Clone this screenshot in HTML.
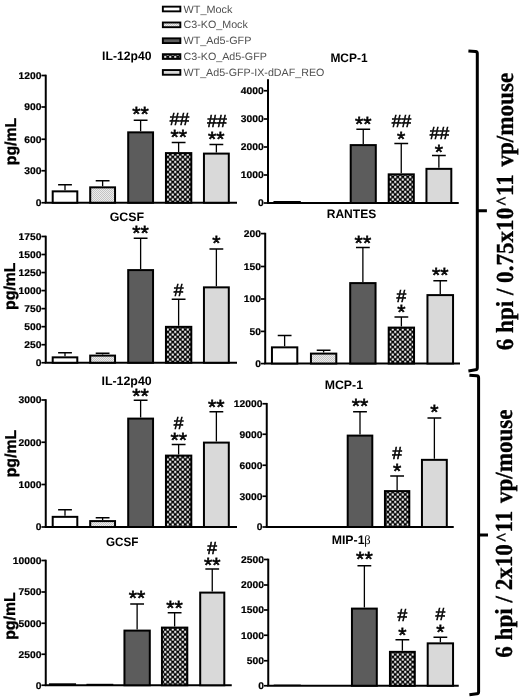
<!DOCTYPE html>
<html><head><meta charset="utf-8"><title>figure</title>
<style>
html,body{margin:0;padding:0;background:#fff;}
svg{display:block;font-family:"Liberation Sans",sans-serif;filter:grayscale(1);text-rendering:geometricPrecision;}
.tk{font-weight:bold;font-size:9.8px;fill:#000;text-rendering:geometricPrecision;stroke:#000;stroke-width:0.2px;}
.tt{font-weight:bold;font-size:12.3px;fill:#000;}
.an{fill:#000;stroke:#000;stroke-width:0.6px;}
.pg{font-weight:bold;font-size:15.7px;fill:#000;stroke:#000;stroke-width:0.35px;}
.lg{font-size:10.6px;fill:#505050;}
.sd{font-family:"Liberation Serif",serif;font-weight:bold;font-size:24.5px;fill:#000;stroke:#000;stroke-width:0.3px;}
</style></head><body>
<svg width="520" height="697" viewBox="0 0 520 697">
<defs>
<pattern id="chk" width="5" height="5" patternUnits="userSpaceOnUse" x="4" y="0.7">
<rect width="5" height="5" fill="#000"/><rect x="0.2" y="0.2" width="2.1" height="2.1" fill="#fff"/><rect x="2.7" y="2.7" width="2.1" height="2.1" fill="#fff"/>
</pattern>
<pattern id="dots" width="2" height="2" patternUnits="userSpaceOnUse">
<rect width="2" height="2" fill="#ececec"/><rect width="1" height="1" fill="#c4c4c4"/><rect x="1" y="1" width="1" height="1" fill="#c4c4c4"/>
</pattern>
</defs>
<rect width="520" height="697" fill="#fff"/>

<path d="M45.75 74.70V202.75" stroke="#000" stroke-width="2.0" fill="none"/>
<path d="M44.75 202.75H237.00" stroke="#000" stroke-width="2.0" fill="none"/>
<path d="M41.45 202.75H45.75" stroke="#000" stroke-width="1.7" fill="none"/>
<text x="41.45" y="206.15" text-anchor="end" class="tk" textLength="5.7" lengthAdjust="spacingAndGlyphs">0</text>
<path d="M41.45 170.75H45.75" stroke="#000" stroke-width="1.7" fill="none"/>
<text x="41.45" y="174.15" text-anchor="end" class="tk" textLength="17.2" lengthAdjust="spacingAndGlyphs">300</text>
<path d="M41.45 139.25H45.75" stroke="#000" stroke-width="1.7" fill="none"/>
<text x="41.45" y="142.65" text-anchor="end" class="tk" textLength="17.2" lengthAdjust="spacingAndGlyphs">600</text>
<path d="M41.45 107.00H45.75" stroke="#000" stroke-width="1.7" fill="none"/>
<text x="41.45" y="110.40" text-anchor="end" class="tk" textLength="17.2" lengthAdjust="spacingAndGlyphs">900</text>
<path d="M41.45 75.50H45.75" stroke="#000" stroke-width="1.7" fill="none"/>
<text x="41.45" y="78.90" text-anchor="end" class="tk" textLength="22.9" lengthAdjust="spacingAndGlyphs">1200</text>
<rect x="52.70" y="191.35" width="24.60" height="11.40" fill="#ffffff" stroke="#000" stroke-width="2.0"/>
<path d="M65.00 190.35V184.75M58.10 184.75H71.90" stroke="#000" stroke-width="1.3" fill="none"/>
<rect x="90.20" y="187.35" width="24.85" height="15.40" fill="url(#dots)" stroke="#000" stroke-width="2.0"/>
<path d="M102.62 186.35V180.75M95.72 180.75H109.53" stroke="#000" stroke-width="1.3" fill="none"/>
<rect x="128.20" y="132.35" width="24.85" height="70.40" fill="#5c5c5c" stroke="#000" stroke-width="2.0"/>
<path d="M140.62 131.35V120.25M133.72 120.25H147.53" stroke="#000" stroke-width="1.3" fill="none"/>
<rect x="165.95" y="153.10" width="25.35" height="49.65" fill="url(#chk)" stroke="#000" stroke-width="2.0"/>
<path d="M178.62 152.10V142.50M171.72 142.50H185.53" stroke="#000" stroke-width="1.3" fill="none"/>
<rect x="203.95" y="153.60" width="24.85" height="49.15" fill="#d9d9d9" stroke="#000" stroke-width="2.0"/>
<path d="M216.38 152.60V144.50M209.47 144.50H223.28" stroke="#000" stroke-width="1.3" fill="none"/>
<text x="102.10" y="60.20" class="tt" textLength="49.3" lengthAdjust="spacingAndGlyphs">IL-12p40</text>
<text x="140.50" y="120.70" text-anchor="middle" class="an" font-size="20.5" textLength="16.6" lengthAdjust="spacingAndGlyphs">**</text>
<text x="178.70" y="144.20" text-anchor="middle" class="an" font-size="20.5" textLength="16.6" lengthAdjust="spacingAndGlyphs">**</text>
<text x="179.50" y="125.00" text-anchor="middle" class="an" font-size="17.5" textLength="19.4" lengthAdjust="spacingAndGlyphs">##</text>
<text x="216.30" y="145.70" text-anchor="middle" class="an" font-size="20.5" textLength="16.6" lengthAdjust="spacingAndGlyphs">**</text>
<text x="217.00" y="126.75" text-anchor="middle" class="an" font-size="17.5" textLength="19.4" lengthAdjust="spacingAndGlyphs">##</text>
<text transform="translate(15.50 141.50) rotate(-90)" text-anchor="middle" class="pg" textLength="47.4" lengthAdjust="spacingAndGlyphs">pg/mL</text>
<path d="M268.00 78.70V203.00" stroke="#000" stroke-width="2.0" fill="none"/>
<path d="M267.00 203.00H458.75" stroke="#000" stroke-width="2.0" fill="none"/>
<path d="M263.70 203.00H268.00" stroke="#000" stroke-width="1.7" fill="none"/>
<text x="263.70" y="206.40" text-anchor="end" class="tk" textLength="5.7" lengthAdjust="spacingAndGlyphs">0</text>
<path d="M263.70 175.00H268.00" stroke="#000" stroke-width="1.7" fill="none"/>
<text x="263.70" y="178.40" text-anchor="end" class="tk" textLength="22.9" lengthAdjust="spacingAndGlyphs">1000</text>
<path d="M263.70 147.00H268.00" stroke="#000" stroke-width="1.7" fill="none"/>
<text x="263.70" y="150.40" text-anchor="end" class="tk" textLength="22.9" lengthAdjust="spacingAndGlyphs">2000</text>
<path d="M263.70 119.00H268.00" stroke="#000" stroke-width="1.7" fill="none"/>
<text x="263.70" y="122.40" text-anchor="end" class="tk" textLength="22.9" lengthAdjust="spacingAndGlyphs">3000</text>
<path d="M263.70 90.75H268.00" stroke="#000" stroke-width="1.7" fill="none"/>
<text x="263.70" y="94.15" text-anchor="end" class="tk" textLength="22.9" lengthAdjust="spacingAndGlyphs">4000</text>
<rect x="273.45" y="201.00" width="27.35" height="2.00" fill="#000"/>
<rect x="310.70" y="202.00" width="27.60" height="1.00" fill="#000"/>
<rect x="350.70" y="145.10" width="25.10" height="57.90" fill="#5c5c5c" stroke="#000" stroke-width="2.0"/>
<path d="M363.25 144.10V129.25M356.35 129.25H370.15" stroke="#000" stroke-width="1.3" fill="none"/>
<rect x="388.70" y="174.35" width="25.10" height="28.65" fill="url(#chk)" stroke="#000" stroke-width="2.0"/>
<path d="M401.25 173.35V143.50M394.35 143.50H408.15" stroke="#000" stroke-width="1.3" fill="none"/>
<rect x="426.45" y="168.85" width="24.85" height="34.15" fill="#d9d9d9" stroke="#000" stroke-width="2.0"/>
<path d="M438.88 167.85V155.50M431.98 155.50H445.77" stroke="#000" stroke-width="1.3" fill="none"/>
<text x="330.45" y="61.70" class="tt" textLength="37.1" lengthAdjust="spacingAndGlyphs">MCP-1</text>
<text x="363.20" y="130.70" text-anchor="middle" class="an" font-size="20.5" textLength="16.6" lengthAdjust="spacingAndGlyphs">**</text>
<text x="401.20" y="145.70" text-anchor="middle" class="an" font-size="20.5" textLength="8.3" lengthAdjust="spacingAndGlyphs">*</text>
<text x="401.50" y="126.50" text-anchor="middle" class="an" font-size="17.5" textLength="19.4" lengthAdjust="spacingAndGlyphs">##</text>
<text x="438.90" y="158.70" text-anchor="middle" class="an" font-size="20.5" textLength="8.3" lengthAdjust="spacingAndGlyphs">*</text>
<text x="439.50" y="139.00" text-anchor="middle" class="an" font-size="17.5" textLength="19.4" lengthAdjust="spacingAndGlyphs">##</text>
<path d="M45.75 235.70V362.75" stroke="#000" stroke-width="2.0" fill="none"/>
<path d="M44.75 362.75H237.00" stroke="#000" stroke-width="2.0" fill="none"/>
<path d="M41.45 362.75H45.75" stroke="#000" stroke-width="1.7" fill="none"/>
<text x="41.45" y="366.15" text-anchor="end" class="tk" textLength="5.7" lengthAdjust="spacingAndGlyphs">0</text>
<path d="M41.45 344.71H45.75" stroke="#000" stroke-width="1.7" fill="none"/>
<text x="41.45" y="348.11" text-anchor="end" class="tk" textLength="17.2" lengthAdjust="spacingAndGlyphs">250</text>
<path d="M41.45 326.67H45.75" stroke="#000" stroke-width="1.7" fill="none"/>
<text x="41.45" y="330.07" text-anchor="end" class="tk" textLength="17.2" lengthAdjust="spacingAndGlyphs">500</text>
<path d="M41.45 308.63H45.75" stroke="#000" stroke-width="1.7" fill="none"/>
<text x="41.45" y="312.03" text-anchor="end" class="tk" textLength="17.2" lengthAdjust="spacingAndGlyphs">750</text>
<path d="M41.45 290.59H45.75" stroke="#000" stroke-width="1.7" fill="none"/>
<text x="41.45" y="293.99" text-anchor="end" class="tk" textLength="22.9" lengthAdjust="spacingAndGlyphs">1000</text>
<path d="M41.45 272.55H45.75" stroke="#000" stroke-width="1.7" fill="none"/>
<text x="41.45" y="275.95" text-anchor="end" class="tk" textLength="22.9" lengthAdjust="spacingAndGlyphs">1250</text>
<path d="M41.45 254.51H45.75" stroke="#000" stroke-width="1.7" fill="none"/>
<text x="41.45" y="257.91" text-anchor="end" class="tk" textLength="22.9" lengthAdjust="spacingAndGlyphs">1500</text>
<path d="M41.45 236.47H45.75" stroke="#000" stroke-width="1.7" fill="none"/>
<text x="41.45" y="239.87" text-anchor="end" class="tk" textLength="22.9" lengthAdjust="spacingAndGlyphs">1750</text>
<rect x="52.70" y="357.35" width="24.60" height="5.40" fill="#ffffff" stroke="#000" stroke-width="2.0"/>
<path d="M65.00 356.35V352.75M58.10 352.75H71.90" stroke="#000" stroke-width="1.3" fill="none"/>
<rect x="90.20" y="355.60" width="24.85" height="7.15" fill="url(#dots)" stroke="#000" stroke-width="2.0"/>
<path d="M102.62 354.60V353.25M95.72 353.25H109.53" stroke="#000" stroke-width="1.3" fill="none"/>
<rect x="128.20" y="270.10" width="24.85" height="92.65" fill="#5c5c5c" stroke="#000" stroke-width="2.0"/>
<path d="M140.62 269.10V238.25M133.72 238.25H147.53" stroke="#000" stroke-width="1.3" fill="none"/>
<rect x="165.95" y="326.85" width="25.35" height="35.90" fill="url(#chk)" stroke="#000" stroke-width="2.0"/>
<path d="M178.62 325.85V299.25M171.72 299.25H185.53" stroke="#000" stroke-width="1.3" fill="none"/>
<rect x="203.95" y="287.35" width="24.85" height="75.40" fill="#d9d9d9" stroke="#000" stroke-width="2.0"/>
<path d="M216.38 286.35V249.00M209.47 249.00H223.28" stroke="#000" stroke-width="1.3" fill="none"/>
<text x="109.70" y="221.20" class="tt" textLength="34.5" lengthAdjust="spacingAndGlyphs">GCSF</text>
<text x="140.50" y="240.20" text-anchor="middle" class="an" font-size="20.5" textLength="16.6" lengthAdjust="spacingAndGlyphs">**</text>
<text x="178.70" y="295.50" text-anchor="middle" class="an" font-size="17.5" textLength="9.7" lengthAdjust="spacingAndGlyphs">#</text>
<text x="216.30" y="250.20" text-anchor="middle" class="an" font-size="20.5" textLength="8.3" lengthAdjust="spacingAndGlyphs">*</text>
<text transform="translate(15.20 286.20) rotate(-90)" text-anchor="middle" class="pg" textLength="47.4" lengthAdjust="spacingAndGlyphs">pg/mL</text>
<path d="M265.20 232.80V363.50" stroke="#000" stroke-width="2.0" fill="none"/>
<path d="M264.20 363.50H460.00" stroke="#000" stroke-width="2.0" fill="none"/>
<path d="M260.90 363.60H265.20" stroke="#000" stroke-width="1.7" fill="none"/>
<text x="260.90" y="367.00" text-anchor="end" class="tk" textLength="5.7" lengthAdjust="spacingAndGlyphs">0</text>
<path d="M260.90 331.40H265.20" stroke="#000" stroke-width="1.7" fill="none"/>
<text x="260.90" y="334.80" text-anchor="end" class="tk" textLength="11.4" lengthAdjust="spacingAndGlyphs">50</text>
<path d="M260.90 299.00H265.20" stroke="#000" stroke-width="1.7" fill="none"/>
<text x="260.90" y="302.40" text-anchor="end" class="tk" textLength="17.2" lengthAdjust="spacingAndGlyphs">100</text>
<path d="M260.90 266.50H265.20" stroke="#000" stroke-width="1.7" fill="none"/>
<text x="260.90" y="269.90" text-anchor="end" class="tk" textLength="17.2" lengthAdjust="spacingAndGlyphs">150</text>
<path d="M260.90 233.60H265.20" stroke="#000" stroke-width="1.7" fill="none"/>
<text x="260.90" y="237.00" text-anchor="end" class="tk" textLength="17.2" lengthAdjust="spacingAndGlyphs">200</text>
<rect x="271.95" y="347.35" width="25.35" height="16.15" fill="#ffffff" stroke="#000" stroke-width="2.0"/>
<path d="M284.62 346.35V335.50M277.73 335.50H291.52" stroke="#000" stroke-width="1.3" fill="none"/>
<rect x="310.95" y="353.60" width="25.35" height="9.90" fill="url(#dots)" stroke="#000" stroke-width="2.0"/>
<path d="M323.62 352.60V350.25M316.73 350.25H330.52" stroke="#000" stroke-width="1.3" fill="none"/>
<rect x="350.20" y="283.10" width="25.35" height="80.40" fill="#5c5c5c" stroke="#000" stroke-width="2.0"/>
<path d="M362.88 282.10V247.50M355.98 247.50H369.77" stroke="#000" stroke-width="1.3" fill="none"/>
<rect x="388.70" y="327.60" width="25.35" height="35.90" fill="url(#chk)" stroke="#000" stroke-width="2.0"/>
<path d="M401.38 326.60V317.00M394.48 317.00H408.27" stroke="#000" stroke-width="1.3" fill="none"/>
<rect x="427.45" y="295.10" width="25.60" height="68.40" fill="#d9d9d9" stroke="#000" stroke-width="2.0"/>
<path d="M440.25 294.10V280.75M433.35 280.75H447.15" stroke="#000" stroke-width="1.3" fill="none"/>
<text x="326.70" y="218.00" class="tt" textLength="49.6" lengthAdjust="spacingAndGlyphs">RANTES</text>
<text x="362.90" y="249.70" text-anchor="middle" class="an" font-size="20.5" textLength="16.6" lengthAdjust="spacingAndGlyphs">**</text>
<text x="401.40" y="319.20" text-anchor="middle" class="an" font-size="20.5" textLength="8.3" lengthAdjust="spacingAndGlyphs">*</text>
<text x="401.40" y="302.25" text-anchor="middle" class="an" font-size="17.5" textLength="9.7" lengthAdjust="spacingAndGlyphs">#</text>
<text x="440.20" y="282.20" text-anchor="middle" class="an" font-size="20.5" textLength="16.6" lengthAdjust="spacingAndGlyphs">**</text>
<path d="M45.75 399.20V527.00" stroke="#000" stroke-width="2.0" fill="none"/>
<path d="M44.75 527.00H237.00" stroke="#000" stroke-width="2.0" fill="none"/>
<path d="M41.45 527.00H45.75" stroke="#000" stroke-width="1.7" fill="none"/>
<text x="41.45" y="530.40" text-anchor="end" class="tk" textLength="5.7" lengthAdjust="spacingAndGlyphs">0</text>
<path d="M41.45 484.50H45.75" stroke="#000" stroke-width="1.7" fill="none"/>
<text x="41.45" y="487.90" text-anchor="end" class="tk" textLength="22.9" lengthAdjust="spacingAndGlyphs">1000</text>
<path d="M41.45 442.25H45.75" stroke="#000" stroke-width="1.7" fill="none"/>
<text x="41.45" y="445.65" text-anchor="end" class="tk" textLength="22.9" lengthAdjust="spacingAndGlyphs">2000</text>
<path d="M41.45 400.00H45.75" stroke="#000" stroke-width="1.7" fill="none"/>
<text x="41.45" y="403.40" text-anchor="end" class="tk" textLength="22.9" lengthAdjust="spacingAndGlyphs">3000</text>
<rect x="52.70" y="516.85" width="24.60" height="10.15" fill="#ffffff" stroke="#000" stroke-width="2.0"/>
<path d="M65.00 515.85V509.75M58.10 509.75H71.90" stroke="#000" stroke-width="1.3" fill="none"/>
<rect x="90.20" y="521.10" width="24.85" height="5.90" fill="url(#dots)" stroke="#000" stroke-width="2.0"/>
<path d="M102.62 520.10V517.75M95.72 517.75H109.53" stroke="#000" stroke-width="1.3" fill="none"/>
<rect x="128.20" y="418.60" width="24.85" height="108.40" fill="#5c5c5c" stroke="#000" stroke-width="2.0"/>
<path d="M140.62 417.60V400.25M133.72 400.25H147.53" stroke="#000" stroke-width="1.3" fill="none"/>
<rect x="165.95" y="455.60" width="25.35" height="71.40" fill="url(#chk)" stroke="#000" stroke-width="2.0"/>
<path d="M178.62 454.60V444.50M171.72 444.50H185.53" stroke="#000" stroke-width="1.3" fill="none"/>
<rect x="203.95" y="442.60" width="24.85" height="84.40" fill="#d9d9d9" stroke="#000" stroke-width="2.0"/>
<path d="M216.38 441.60V411.75M209.47 411.75H223.28" stroke="#000" stroke-width="1.3" fill="none"/>
<text x="101.45" y="385.20" class="tt" textLength="50.3" lengthAdjust="spacingAndGlyphs">IL-12p40</text>
<text x="140.50" y="402.70" text-anchor="middle" class="an" font-size="20.5" textLength="16.6" lengthAdjust="spacingAndGlyphs">**</text>
<text x="178.70" y="446.70" text-anchor="middle" class="an" font-size="20.5" textLength="16.6" lengthAdjust="spacingAndGlyphs">**</text>
<text x="178.70" y="428.50" text-anchor="middle" class="an" font-size="17.5" textLength="9.7" lengthAdjust="spacingAndGlyphs">#</text>
<text x="216.30" y="413.70" text-anchor="middle" class="an" font-size="20.5" textLength="16.6" lengthAdjust="spacingAndGlyphs">**</text>
<text transform="translate(15.50 453.60) rotate(-90)" text-anchor="middle" class="pg" textLength="47.4" lengthAdjust="spacingAndGlyphs">pg/mL</text>
<path d="M266.75 402.95V527.00" stroke="#000" stroke-width="2.0" fill="none"/>
<path d="M265.75 527.00H453.75" stroke="#000" stroke-width="2.0" fill="none"/>
<path d="M262.45 527.00H266.75" stroke="#000" stroke-width="1.7" fill="none"/>
<text x="262.45" y="530.40" text-anchor="end" class="tk" textLength="5.7" lengthAdjust="spacingAndGlyphs">0</text>
<path d="M262.45 496.25H266.75" stroke="#000" stroke-width="1.7" fill="none"/>
<text x="262.45" y="499.65" text-anchor="end" class="tk" textLength="22.9" lengthAdjust="spacingAndGlyphs">3000</text>
<path d="M262.45 465.25H266.75" stroke="#000" stroke-width="1.7" fill="none"/>
<text x="262.45" y="468.65" text-anchor="end" class="tk" textLength="22.9" lengthAdjust="spacingAndGlyphs">6000</text>
<path d="M262.45 434.25H266.75" stroke="#000" stroke-width="1.7" fill="none"/>
<text x="262.45" y="437.65" text-anchor="end" class="tk" textLength="22.9" lengthAdjust="spacingAndGlyphs">9000</text>
<path d="M262.45 403.75H266.75" stroke="#000" stroke-width="1.7" fill="none"/>
<text x="262.45" y="407.15" text-anchor="end" class="tk" textLength="28.6" lengthAdjust="spacingAndGlyphs">12000</text>
<rect x="272.70" y="526.00" width="26.60" height="1.00" fill="#000"/>
<rect x="309.70" y="526.20" width="26.60" height="0.80" fill="#000"/>
<rect x="347.70" y="435.60" width="24.60" height="91.40" fill="#5c5c5c" stroke="#000" stroke-width="2.0"/>
<path d="M360.00 434.60V411.75M353.10 411.75H366.90" stroke="#000" stroke-width="1.3" fill="none"/>
<rect x="384.95" y="491.10" width="24.35" height="35.90" fill="url(#chk)" stroke="#000" stroke-width="2.0"/>
<path d="M397.12 490.10V476.00M390.23 476.00H404.02" stroke="#000" stroke-width="1.3" fill="none"/>
<rect x="421.95" y="459.85" width="24.85" height="67.15" fill="#d9d9d9" stroke="#000" stroke-width="2.0"/>
<path d="M434.38 458.85V418.00M427.48 418.00H441.27" stroke="#000" stroke-width="1.3" fill="none"/>
<text x="324.70" y="388.70" class="tt" textLength="38.3" lengthAdjust="spacingAndGlyphs">MCP-1</text>
<text x="360.00" y="413.45" text-anchor="middle" class="an" font-size="20.5" textLength="16.6" lengthAdjust="spacingAndGlyphs">**</text>
<text x="397.10" y="478.45" text-anchor="middle" class="an" font-size="20.5" textLength="8.3" lengthAdjust="spacingAndGlyphs">*</text>
<text x="397.10" y="458.50" text-anchor="middle" class="an" font-size="17.5" textLength="9.7" lengthAdjust="spacingAndGlyphs">#</text>
<text x="434.40" y="419.20" text-anchor="middle" class="an" font-size="20.5" textLength="8.3" lengthAdjust="spacingAndGlyphs">*</text>
<path d="M45.75 559.70V685.25" stroke="#000" stroke-width="2.0" fill="none"/>
<path d="M44.75 685.25H231.75" stroke="#000" stroke-width="2.0" fill="none"/>
<path d="M41.45 685.25H45.75" stroke="#000" stroke-width="1.7" fill="none"/>
<text x="41.45" y="688.65" text-anchor="end" class="tk" textLength="5.7" lengthAdjust="spacingAndGlyphs">0</text>
<path d="M41.45 654.25H45.75" stroke="#000" stroke-width="1.7" fill="none"/>
<text x="41.45" y="657.65" text-anchor="end" class="tk" textLength="22.9" lengthAdjust="spacingAndGlyphs">2500</text>
<path d="M41.45 623.25H45.75" stroke="#000" stroke-width="1.7" fill="none"/>
<text x="41.45" y="626.65" text-anchor="end" class="tk" textLength="22.9" lengthAdjust="spacingAndGlyphs">5000</text>
<path d="M41.45 592.00H45.75" stroke="#000" stroke-width="1.7" fill="none"/>
<text x="41.45" y="595.40" text-anchor="end" class="tk" textLength="22.9" lengthAdjust="spacingAndGlyphs">7500</text>
<path d="M41.45 560.50H45.75" stroke="#000" stroke-width="1.7" fill="none"/>
<text x="41.45" y="563.90" text-anchor="end" class="tk" textLength="28.6" lengthAdjust="spacingAndGlyphs">10000</text>
<rect x="48.95" y="683.30" width="27.10" height="1.95" fill="#000"/>
<rect x="86.45" y="683.80" width="26.85" height="1.45" fill="#000"/>
<rect x="124.45" y="630.60" width="25.35" height="54.65" fill="#5c5c5c" stroke="#000" stroke-width="2.0"/>
<path d="M137.12 629.60V604.00M130.22 604.00H144.03" stroke="#000" stroke-width="1.3" fill="none"/>
<rect x="161.95" y="627.60" width="25.35" height="57.65" fill="url(#chk)" stroke="#000" stroke-width="2.0"/>
<path d="M174.62 626.60V612.75M167.72 612.75H181.53" stroke="#000" stroke-width="1.3" fill="none"/>
<rect x="200.20" y="592.60" width="24.10" height="92.65" fill="#d9d9d9" stroke="#000" stroke-width="2.0"/>
<path d="M212.25 591.60V569.00M205.35 569.00H219.15" stroke="#000" stroke-width="1.3" fill="none"/>
<text x="105.95" y="546.20" class="tt" textLength="32.5" lengthAdjust="spacingAndGlyphs">GCSF</text>
<text x="137.10" y="605.20" text-anchor="middle" class="an" font-size="20.5" textLength="16.6" lengthAdjust="spacingAndGlyphs">**</text>
<text x="174.60" y="615.45" text-anchor="middle" class="an" font-size="20.5" textLength="16.6" lengthAdjust="spacingAndGlyphs">**</text>
<text x="212.20" y="571.70" text-anchor="middle" class="an" font-size="20.5" textLength="16.6" lengthAdjust="spacingAndGlyphs">**</text>
<text x="212.20" y="554.00" text-anchor="middle" class="an" font-size="17.5" textLength="9.7" lengthAdjust="spacingAndGlyphs">#</text>
<text transform="translate(14.60 616.10) rotate(-90)" text-anchor="middle" class="pg" textLength="47.4" lengthAdjust="spacingAndGlyphs">pg/mL</text>
<path d="M268.25 558.70V685.75" stroke="#000" stroke-width="2.0" fill="none"/>
<path d="M267.25 685.75H458.75" stroke="#000" stroke-width="2.0" fill="none"/>
<path d="M263.95 685.75H268.25" stroke="#000" stroke-width="1.7" fill="none"/>
<text x="263.95" y="689.15" text-anchor="end" class="tk" textLength="5.7" lengthAdjust="spacingAndGlyphs">0</text>
<path d="M263.95 660.75H268.25" stroke="#000" stroke-width="1.7" fill="none"/>
<text x="263.95" y="664.15" text-anchor="end" class="tk" textLength="17.2" lengthAdjust="spacingAndGlyphs">500</text>
<path d="M263.95 635.25H268.25" stroke="#000" stroke-width="1.7" fill="none"/>
<text x="263.95" y="638.65" text-anchor="end" class="tk" textLength="22.9" lengthAdjust="spacingAndGlyphs">1000</text>
<path d="M263.95 610.00H268.25" stroke="#000" stroke-width="1.7" fill="none"/>
<text x="263.95" y="613.40" text-anchor="end" class="tk" textLength="22.9" lengthAdjust="spacingAndGlyphs">1500</text>
<path d="M263.95 585.00H268.25" stroke="#000" stroke-width="1.7" fill="none"/>
<text x="263.95" y="588.40" text-anchor="end" class="tk" textLength="22.9" lengthAdjust="spacingAndGlyphs">2000</text>
<path d="M263.95 559.50H268.25" stroke="#000" stroke-width="1.7" fill="none"/>
<text x="263.95" y="562.90" text-anchor="end" class="tk" textLength="22.9" lengthAdjust="spacingAndGlyphs">2500</text>
<rect x="273.70" y="684.60" width="27.10" height="1.15" fill="#000"/>
<rect x="311.70" y="685.00" width="27.10" height="0.75" fill="#000"/>
<rect x="351.95" y="608.60" width="24.85" height="77.15" fill="#5c5c5c" stroke="#000" stroke-width="2.0"/>
<path d="M364.38 607.60V565.75M357.48 565.75H371.27" stroke="#000" stroke-width="1.3" fill="none"/>
<rect x="389.95" y="651.85" width="24.85" height="33.90" fill="url(#chk)" stroke="#000" stroke-width="2.0"/>
<path d="M402.38 650.85V639.75M395.48 639.75H409.27" stroke="#000" stroke-width="1.3" fill="none"/>
<rect x="427.70" y="643.35" width="25.35" height="42.40" fill="#d9d9d9" stroke="#000" stroke-width="2.0"/>
<path d="M440.38 642.35V637.25M433.48 637.25H447.27" stroke="#000" stroke-width="1.3" fill="none"/>
<text x="331.70" y="543.70" class="tt" textLength="32.8" lengthAdjust="spacingAndGlyphs">MIP-1</text><text x="364.3" y="543.7" font-family="Liberation Serif" font-size="12.5" fill="#000">β</text>
<text x="364.40" y="565.95" text-anchor="middle" class="an" font-size="20.5" textLength="16.6" lengthAdjust="spacingAndGlyphs">**</text>
<text x="402.40" y="641.70" text-anchor="middle" class="an" font-size="20.5" textLength="8.3" lengthAdjust="spacingAndGlyphs">*</text>
<text x="402.40" y="621.25" text-anchor="middle" class="an" font-size="17.5" textLength="9.7" lengthAdjust="spacingAndGlyphs">#</text>
<text x="440.40" y="639.20" text-anchor="middle" class="an" font-size="20.5" textLength="8.3" lengthAdjust="spacingAndGlyphs">*</text>
<text x="440.40" y="620.00" text-anchor="middle" class="an" font-size="17.5" textLength="9.7" lengthAdjust="spacingAndGlyphs">#</text>
<rect x="158" y="0" width="170" height="79.2" fill="#fff"/>
<rect x="162.85" y="6.65" width="17.5" height="4.7" fill="#ffffff" stroke="#000" stroke-width="1.9"/>
<text x="183.5" y="12.50" class="lg" textLength="48.9" lengthAdjust="spacingAndGlyphs">WT_Mock</text>
<rect x="162.85" y="22.50" width="17.5" height="4.7" fill="url(#dots)" stroke="#000" stroke-width="1.9"/>
<text x="183.5" y="28.35" class="lg" textLength="64.3" lengthAdjust="spacingAndGlyphs">C3-KO_Mock</text>
<rect x="162.85" y="38.35" width="17.5" height="4.7" fill="#5c5c5c" stroke="#000" stroke-width="1.9"/>
<text x="183.5" y="44.20" class="lg" textLength="67.9" lengthAdjust="spacingAndGlyphs">WT_Ad5-GFP</text>
<rect x="162.85" y="54.20" width="17.5" height="4.7" fill="url(#chk)" stroke="#000" stroke-width="1.9"/>
<text x="183.5" y="60.05" class="lg" textLength="83.4" lengthAdjust="spacingAndGlyphs">C3-KO_Ad5-GFP</text>
<rect x="162.85" y="70.05" width="17.5" height="4.7" fill="#d9d9d9" stroke="#000" stroke-width="1.9"/>
<text x="183.5" y="75.90" class="lg" textLength="140.9" lengthAdjust="spacingAndGlyphs">WT_Ad5-GFP-IX-dDAF_REO</text>
<path d="M468.40 50.90L475.50 51.40Q477.30 51.60 477.30 53.40V367.80Q477.30 369.60 475.50 369.85L468.40 370.90M477.30 210.80H486.90" stroke="#000" stroke-width="3" fill="none" stroke-linejoin="round"/>
<path d="M469.40 375.20L476.80 375.80Q478.60 376.00 478.60 377.80V691.80Q478.60 693.60 476.80 693.85L469.40 694.80M478.60 535.00H488.00" stroke="#000" stroke-width="3" fill="none" stroke-linejoin="round"/>
<text transform="translate(512.6 350.3) rotate(-90)" class="sd" textLength="277.5" lengthAdjust="spacingAndGlyphs">6 hpi / 0.75x10<tspan font-size="19" dy="-3.2" dx="1.7">^</tspan><tspan dy="3.2" dx="-0.3">11</tspan><tspan dx="2"> vp/mouse</tspan></text>
<text transform="translate(512.3 657.7) rotate(-90)" class="sd" textLength="248.3" lengthAdjust="spacingAndGlyphs">6 hpi / 2x10<tspan font-size="19" dy="-3.2" dx="1.7">^</tspan><tspan dy="3.2" dx="-0.3">11</tspan><tspan dx="2"> vp/mouse</tspan></text>
</svg></body></html>
